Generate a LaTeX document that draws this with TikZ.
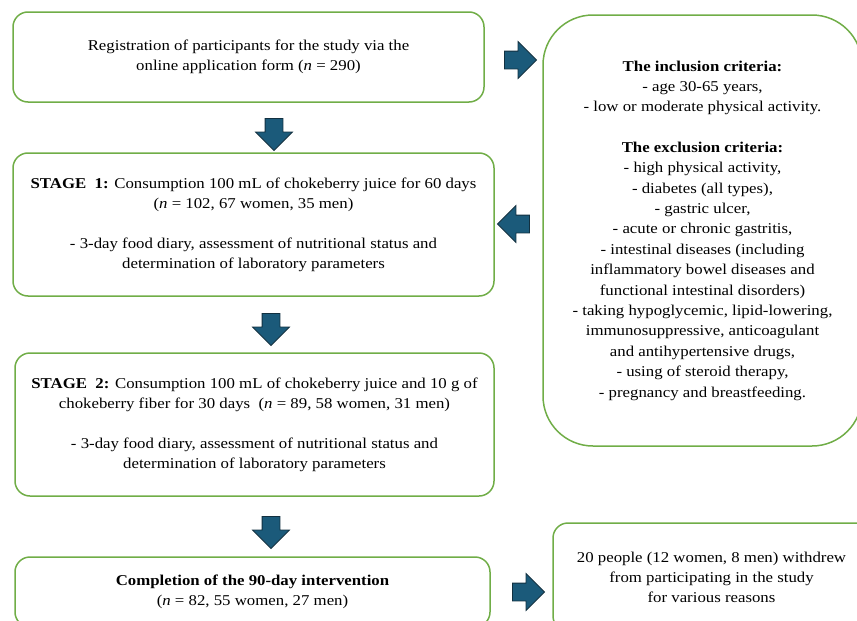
\documentclass[tikz,border=0pt]{standalone}
\usepackage{fontspec}
\setmainfont[FakeStretch=1.12]{Liberation Serif}
\usetikzlibrary{shapes.arrows, positioning}
\definecolor{boxgreen}{RGB}{112,173,71}
\definecolor{arrowblue}{RGB}{27,90,122}
\definecolor{arrowedge}{RGB}{18,48,64}
\tikzset{box/.style={draw=boxgreen, line width=1.5pt, rounded corners=15pt, align=center, inner sep=0pt, font=\fontsize{15}{20}\selectfont},
	blockarrow/.style={single arrow, draw=arrowedge, fill=arrowblue, line width=0.8pt, minimum height=32pt, inner sep=8.5pt, single arrow head extend=9.5pt},
	down/.style={blockarrow, shape border rotate=270},
	leftward/.style={blockarrow, shape border rotate=180}}

\begin{document}
\begin{tikzpicture}[x=1pt, y=-1pt]
	\useasboundingbox (0,0) rectangle (857,621);
	% left column
	\node[box, minimum width=471pt, minimum height=90pt] (reg) at (248.5,57)
		{Registration of participants for the study via the\\ online application form (\textit{n} = 290)};
	\node[box, minimum width=481pt, minimum height=143pt] (st1) at (253.5,224.5)
		{\textbf{STAGE\ \ 1:} Consumption 100 mL of chokeberry juice for 60 days\\ (\textit{n} = 102, 67 women, 35 men)\\[20pt]
		 - 3-day food diary, assessment of nutritional status and\\ determination of laboratory parameters};
	\node[box, minimum width=479pt, minimum height=143pt] (st2) at (254.5,424.5)
		{\textbf{STAGE\ \ 2:} Consumption 100 mL of chokeberry juice and 10 g of\\ chokeberry fiber for 30 days\ \ (\textit{n} = 89, 58 women, 31 men)\\[20pt]
		 - 3-day food diary, assessment of nutritional status and\\ determination of laboratory parameters};
	\node[box, minimum width=475pt, minimum height=70pt] (done) at (252.5,592)
		{\textbf{Completion of the 90-day intervention}\\ (\textit{n} = 82, 55 women, 27 men)};
	% right column
	\node[box, rounded corners=50pt, minimum width=319pt, minimum height=431pt, font=\fontsize{15}{20.4}\selectfont] (crit) at (702.5,230.5)
		{\textbf{The inclusion criteria:}\\ - age 30-65 years,\\ - low or moderate physical activity.\\[20pt]
		 \textbf{The exclusion criteria:}\\ - high physical activity,\\ - diabetes (all types),\\ - gastric ulcer,\\
		 - acute or chronic gastritis,\\ - intestinal diseases (including\\ inflammatory bowel diseases and\\
		 functional intestinal disorders)\\ - taking hypoglycemic, lipid-lowering,\\ immunosuppressive, anticoagulant\\
		 and antihypertensive drugs,\\ - using of steroid therapy,\\ - pregnancy and breastfeeding.};
	\node[box, minimum width=317pt, minimum height=108pt] (drop) at (711.5,577)
		{20 people (12 women, 8 men) withdrew\\ from participating in the study\\ for various reasons};
	% block arrows
	\node[blockarrow] (a1) at (516,60) {};
	\node[down] (a2) at (274,130) {};
	\node[leftward] (a3) at (518,224) {};
	\node[down] (a4) at (271,325) {};
	\node[down] (a5) at (271,528) {};
	\node[blockarrow] (a6) at (524,592) {};
\end{tikzpicture}
\end{document}
